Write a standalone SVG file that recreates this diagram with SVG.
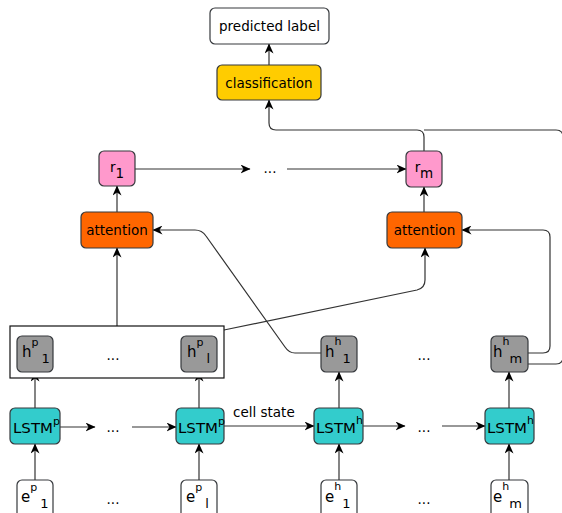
<svg xmlns="http://www.w3.org/2000/svg" width="562" height="513" viewBox="0 0 562 513">
  <defs>
    <style>
      .node { stroke: #36393d; stroke-width: 1.2; }
      .lbl { font-family: "DejaVu Sans", sans-serif; font-size: 13.5px; fill: #000; }
      .big { font-size: 15px; }
      .sm { font-size: 11px; }
      .sub { font-size: 13px; }
      .edge { fill: none; stroke: #333; stroke-width: 1.2; }
      .arrow { marker-end: url(#head); }
      .white { fill: #ffffff; }
      .yellow { fill: #ffcc00; }
      .pink { fill: #ff99cc; }
      .orange { fill: #ff6600; }
      .gray { fill: #999999; }
      .cyan { fill: #33cccc; }
    </style>
    <marker id="head" viewBox="0 0 10 9" refX="9.5" refY="4.5" markerWidth="10" markerHeight="9" markerUnits="userSpaceOnUse" orient="auto">
      <path d="M0,0 L10,4.5 L0,9 L3,4.5 z" fill="#000"/>
    </marker>
  </defs>

  <!-- connectors -->
  <g id="connectors">
    <path class="edge arrow" d="M269,65 L269,44"/>
    <path class="edge arrow" d="M424,151 L424,137 Q424,130 417,130 L276,130 Q269,130 269,123 L269,100"/>
    <path class="edge" d="M528,364 L556,364 Q563,364 563,357 L563,137 Q563,130 556,130 L424,130"/>
    <path class="edge arrow" d="M135,169 L250,169"/>
    <path class="edge arrow" d="M287,169 L406,169"/>
    <path class="edge arrow" d="M117,212 L117,186"/>
    <path class="edge arrow" d="M424,212 L424,187"/>
    <path class="edge arrow" d="M117,326 L117,248"/>
    <path class="edge arrow" d="M224,330 L417,290 Q425,288 425,280 L425,248"/>
    <path class="edge arrow" d="M321,353 L295,353 Q289,353 285,347 L206,236 Q202,230 195,230 L153,230"/>
    <path class="edge arrow" d="M528,353 L543,353 Q550,353 550,346 L550,237 Q550,230 543,230 L462,230"/>
    <!-- embeddings into LSTM cells -->
    <path class="edge arrow" d="M35,480 L35,444"/>
    <path class="edge arrow" d="M199,480 L199,444"/>
    <path class="edge arrow" d="M339,480 L339,444"/>
    <path class="edge arrow" d="M509,480 L509,444"/>
    <!-- LSTM cells into hidden states -->
    <path class="edge arrow" d="M35,408 L35,372"/>
    <path class="edge arrow" d="M199,408 L199,372"/>
    <path class="edge arrow" d="M339,408 L339,372"/>
    <path class="edge arrow" d="M509,408 L509,372"/>
    <!-- recurrence -->
    <path class="edge arrow" d="M60,427 L95,427"/>
    <path class="edge arrow" d="M132,427 L176,427"/>
    <path class="edge arrow" d="M224,426 L314,426"/>
    <path class="edge arrow" d="M363,426 L405,426"/>
    <path class="edge arrow" d="M442,426 L485,426"/>
    <text class="lbl" x="233" y="417">cell state</text>
  </g>

  <g id="predicted-label">
    <rect class="node white" x="210" y="8" width="119" height="36" rx="5"/>
    <text class="lbl" x="269.5" y="31" text-anchor="middle">predicted label</text>
  </g>
  <g id="classification">
    <rect class="node yellow" x="217" y="65" width="104" height="35" rx="5"/>
    <text class="lbl" x="269" y="87.5" text-anchor="middle">classification</text>
  </g>

  <g id="r-1">
    <rect class="node pink" x="99" y="151" width="36" height="35" rx="5"/>
    <text class="lbl" x="117" y="172" text-anchor="middle">r<tspan dy="6">1</tspan></text>
  </g>
  <text class="lbl" x="270" y="173" text-anchor="middle">...</text>
  <g id="r-m">
    <rect class="node pink" x="406" y="151" width="36" height="36" rx="5"/>
    <text class="lbl" x="424" y="172" text-anchor="middle">r<tspan dy="6">m</tspan></text>
  </g>

  <g id="attention-1">
    <rect class="node orange" x="81" y="212" width="72" height="36" rx="5"/>
    <text class="lbl" x="117" y="235" text-anchor="middle">attention</text>
  </g>
  <g id="attention-m">
    <rect class="node orange" x="387" y="212" width="75" height="36" rx="5"/>
    <text class="lbl" x="424.5" y="235" text-anchor="middle">attention</text>
  </g>

  <g id="premise-states">
    <rect x="10" y="326" width="214" height="52" fill="#fff" stroke="#111" stroke-width="1.2"/>
    <g id="hp-1">
      <rect class="node gray" x="17" y="336" width="36" height="36" rx="5"/>
      <text class="lbl big" x="22" y="357">h<tspan class="sm" dy="-11">p</tspan><tspan class="sub" dx="3" dy="17">1</tspan></text>
    </g>
    <text class="lbl" x="113" y="360" text-anchor="middle">...</text>
    <g id="hp-l">
      <rect class="node gray" x="181" y="336" width="36" height="36" rx="5"/>
      <text class="lbl big" x="187" y="357">h<tspan class="sm" dy="-11">p</tspan><tspan class="sub" dx="3" dy="17">l</tspan></text>
    </g>
  </g>

  <g id="hh-1">
    <rect class="node gray" x="321" y="336" width="36" height="36" rx="5"/>
    <text class="lbl big" x="325" y="357">h<tspan class="sm" dy="-12">h</tspan><tspan class="sub" dx="1" dy="18">1</tspan></text>
  </g>
  <text class="lbl" x="424" y="360" text-anchor="middle">...</text>
  <g id="hh-m">
    <rect class="node gray" x="491" y="336" width="37" height="36" rx="5"/>
    <text class="lbl big" x="493" y="357">h<tspan class="sm" dy="-12">h</tspan><tspan class="sub" dx="0" dy="18">m</tspan></text>
  </g>

  <g id="lstm-p-1">
    <rect class="node cyan" x="10" y="408" width="50" height="36" rx="5"/>
    <text class="lbl" x="13" y="433" textLength="40" lengthAdjust="spacingAndGlyphs">LSTM</text>
    <text class="lbl sm" x="53" y="425">p</text>
  </g>
  <text class="lbl" x="113" y="432" text-anchor="middle">...</text>
  <g id="lstm-p-l">
    <rect class="node cyan" x="176" y="408" width="48" height="36" rx="5"/>
    <text class="lbl" x="178" y="433" textLength="40" lengthAdjust="spacingAndGlyphs">LSTM</text>
    <text class="lbl sm" x="218" y="425">p</text>
  </g>
  <g id="lstm-h-1">
    <rect class="node cyan" x="314" y="408" width="49" height="36" rx="5"/>
    <text class="lbl" x="316" y="433" textLength="40" lengthAdjust="spacingAndGlyphs">LSTM</text>
    <text class="lbl sm" x="356" y="424">h</text>
  </g>
  <text class="lbl" x="424" y="432" text-anchor="middle">...</text>
  <g id="lstm-h-m">
    <rect class="node cyan" x="485" y="408" width="49" height="36" rx="5"/>
    <text class="lbl" x="487" y="433" textLength="40" lengthAdjust="spacingAndGlyphs">LSTM</text>
    <text class="lbl sm" x="527" y="424">h</text>
  </g>

  <g id="ep-1">
    <rect class="node white" x="17" y="480" width="36" height="40" rx="5"/>
    <text class="lbl big" x="21" y="502">e<tspan class="sm" dy="-11">p</tspan><tspan class="sub" dx="3" dy="17">1</tspan></text>
  </g>
  <text class="lbl" x="113" y="504" text-anchor="middle">...</text>
  <g id="ep-l">
    <rect class="node white" x="181" y="480" width="36" height="40" rx="5"/>
    <text class="lbl big" x="186" y="502">e<tspan class="sm" dy="-11">p</tspan><tspan class="sub" dx="3" dy="17">l</tspan></text>
  </g>
  <g id="eh-1">
    <rect class="node white" x="321" y="480" width="36" height="40" rx="5"/>
    <text class="lbl big" x="325" y="502">e<tspan class="sm" dy="-12">h</tspan><tspan class="sub" dx="1" dy="18">1</tspan></text>
  </g>
  <text class="lbl" x="424" y="504" text-anchor="middle">...</text>
  <g id="eh-m">
    <rect class="node white" x="491" y="480" width="37" height="40" rx="5"/>
    <text class="lbl big" x="493" y="502">e<tspan class="sm" dy="-12">h</tspan><tspan class="sub" dx="0" dy="18">m</tspan></text>
  </g>
</svg>
